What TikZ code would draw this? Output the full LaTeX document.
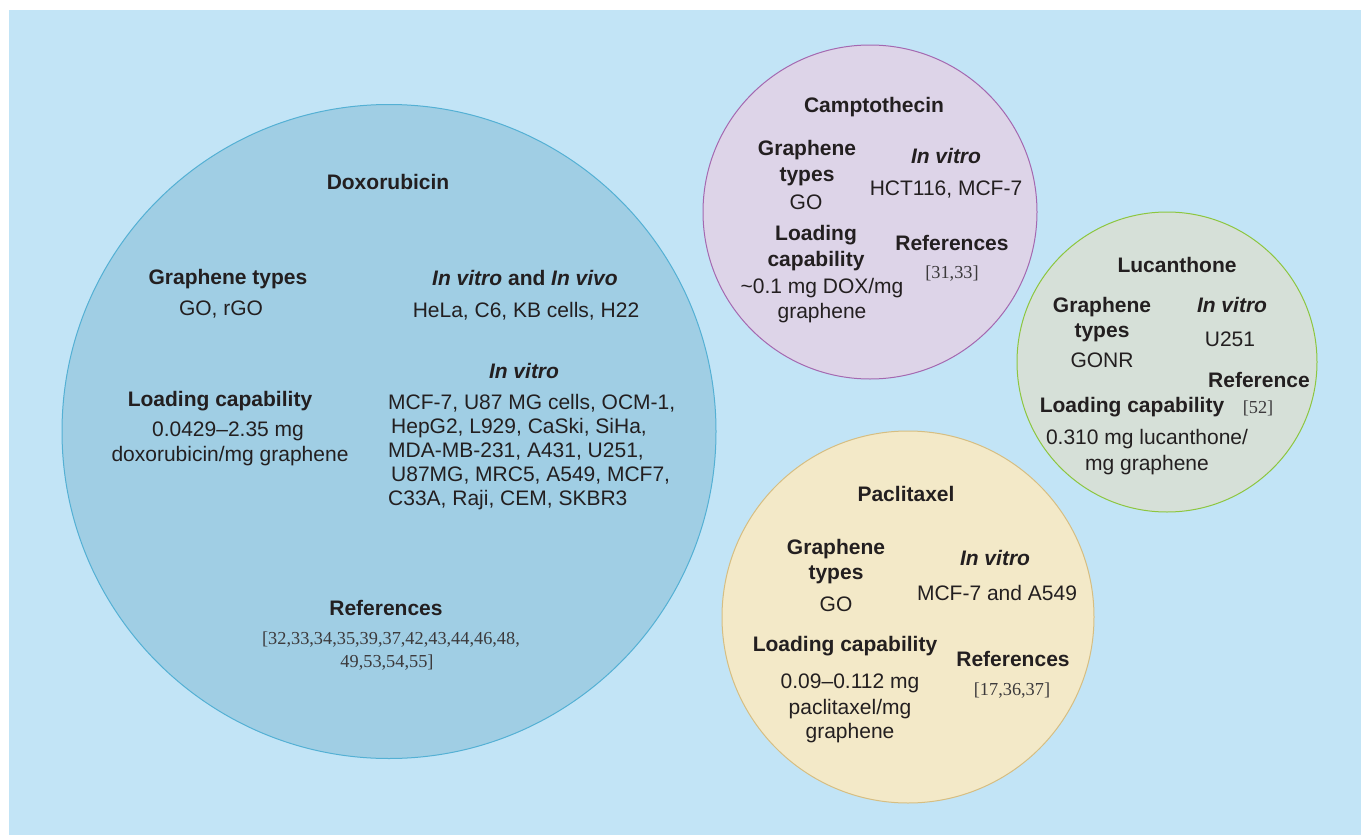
\documentclass[tikz,border=0pt]{standalone}
\usepackage{fontspec}
\setmainfont{Liberation Sans}
\newfontfamily\reffont{Liberation Serif}
\definecolor{bgblue}{RGB}{194,228,246}
\definecolor{doxfill}{RGB}{160,206,228}
\definecolor{doxline}{RGB}{84,176,212}
\definecolor{camfill}{RGB}{221,212,232}
\definecolor{camline}{RGB}{164,104,176}
\definecolor{lucfill}{RGB}{214,224,216}
\definecolor{lucline}{RGB}{141,198,63}
\definecolor{pacfill}{RGB}{243,233,200}
\definecolor{pacline}{RGB}{214,190,130}
\definecolor{ink}{RGB}{35,31,32}
\definecolor{refink}{RGB}{60,58,60}
\tikzset{
  bubble/.style={circle, inner sep=0pt, outer sep=0pt, line width=1pt},
  txt/.style={inner sep=0pt, anchor=base, text=ink, font=\fontsize{21}{25}\selectfont},
  hd/.style={txt, font=\fontsize{21}{25}\selectfont\bfseries},
  hit/.style={txt, font=\fontsize{21}{25}\selectfont\bfseries\itshape},
  reftxt/.style={inner sep=0pt, anchor=base, text=refink, font=\fontsize{18.3}{24}\selectfont\reffont},
}
\begin{document}
\begin{tikzpicture}[x=1pt,y=-1pt]
\useasboundingbox (0,0) rectangle (1361,835);
\fill[bgblue] (9,10) rectangle (1361,835);

% circles
\node[bubble, draw=doxline, fill=doxfill, minimum size=654pt] (dox) at (389,431.5) {};
\node[bubble, draw=camline, fill=camfill, minimum size=334pt] (cam) at (870,212) {};
\node[bubble, draw=lucline, fill=lucfill, minimum size=300pt] (luc) at (1167,362) {};
\node[bubble, draw=pacline, fill=pacfill, minimum size=372pt] (pac) at (908,617) {};

% Doxorubicin
\node[hd] (doxT) at (388,189) {Doxorubicin};
\node[hd] (doxGT) at (228,284) {Graphene types};
\node[txt] (doxGV) at (221,315) {GO, rGO};
\node[hd] (doxIVH) at (525,285) {\textit{In vitro} and \textit{In vivo}};
\node[txt] (doxIVV) at (526,317) {HeLa, C6, KB cells, H22};
\node[hit] (doxITH) at (524,378) {In vitro};
\node[txt, anchor=base west] (doxL1) at (388,409) {MCF-7, U87 MG cells, OCM-1,};
\node[txt, anchor=base west] (doxL2) at (391,433) {HepG2, L929, CaSki, SiHa,};
\node[txt, anchor=base west] (doxL3) at (388,457) {MDA-MB-231, A431, U251,};
\node[txt, anchor=base west] (doxL4) at (391,481) {U87MG, MRC5, A549, MCF7,};
\node[txt, anchor=base west] (doxL5) at (388,505) {C33A, Raji, CEM, SKBR3};
\node[hd] (doxLH) at (220,406) {Loading capability};
\node[txt] (doxLV1) at (228,436) {0.0429\textendash 2.35 mg};
\node[txt] (doxLV2) at (230,461) {doxorubicin/mg graphene};
\node[hd] (doxRH) at (386,615) {References};
\node[reftxt] (doxRV1) at (391,644) {[32,33,34,35,39,37,42,43,44,46,48,};
\node[reftxt] (doxRV2) at (387,667) {49,53,54,55]};

% Camptothecin
\node[hd] (camT) at (874,112) {Camptothecin};
\node[hd] (camG1) at (807,155) {Graphene};
\node[hd] (camG2) at (807,181) {types};
\node[txt] (camGV) at (806,209) {GO};
\node[hit] (camITH) at (946,163) {In vitro};
\node[txt] (camITV) at (946,195) {HCT116, MCF-7};
\node[hd] (camL1) at (816,240) {Loading};
\node[hd] (camL2) at (816,266) {capability};
\node[txt] (camLV1) at (822,293) {\textasciitilde 0.1 mg DOX/mg};
\node[txt] (camLV2) at (822,318) {graphene};
\node[hd] (camRH) at (952,250) {References};
\node[reftxt] (camRV) at (952,278) {[31,33]};

% Lucanthone
\node[hd] (lucT) at (1177,272) {Lucanthone};
\node[hd] (lucG1) at (1102,312) {Graphene};
\node[hd] (lucG2) at (1102,337) {types};
\node[txt] (lucGV) at (1102,367) {GONR};
\node[hit] (lucITH) at (1232,312) {In vitro};
\node[txt] (lucITV) at (1230,346) {U251};
\node[hd] (lucRH) at (1259,387) {Reference};
\node[hd] (lucLH) at (1132,412) {Loading capability};
\node[reftxt] (lucRV) at (1258,413) {[52]};
\node[txt] (lucLV1) at (1147,444) {0.310 mg lucanthone/};
\node[txt] (lucLV2) at (1147,470) {mg graphene};

% Paclitaxel
\node[hd] (pacT) at (906,501) {Paclitaxel};
\node[hd] (pacG1) at (836,554) {Graphene};
\node[hd] (pacG2) at (836,579) {types};
\node[txt] (pacGV) at (836,611) {GO};
\node[hit] (pacITH) at (995,565) {In vitro};
\node[txt] (pacITV) at (997,600) {MCF-7 and A549};
\node[hd] (pacLH) at (845,651) {Loading capability};
\node[txt] (pacLV1) at (850,688) {0.09\textendash 0.112 mg};
\node[txt] (pacLV2) at (850,714) {paclitaxel/mg};
\node[txt] (pacLV3) at (850,738) {graphene};
\node[hd] (pacRH) at (1013,666) {References};
\node[reftxt] (pacRV) at (1012,695) {[17,36,37]};
\end{tikzpicture}
\end{document}
